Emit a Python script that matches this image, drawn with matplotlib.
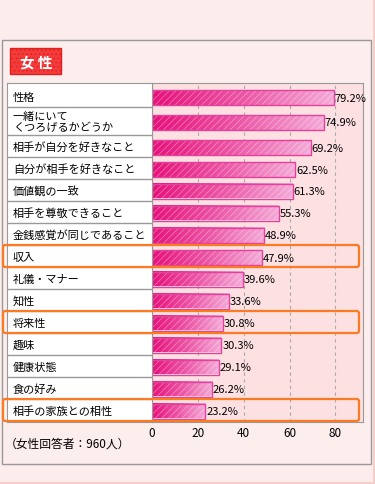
import matplotlib
matplotlib.use('Agg')
import numpy as np
import matplotlib.pyplot as plt
from matplotlib.patches import Rectangle, FancyBboxPatch
from matplotlib.colors import LinearSegmentedColormap

plt.rcParams['font.family'] = ['Noto Sans CJK JP', 'DejaVu Sans']
plt.rcParams['hatch.linewidth'] = 0.6

items = ['性格', '一緒にいて\nくつろげるかどうか', '相手が自分を好きなこと', '自分が相手を好きなこと',
         '価値観の一致', '相手を尊敬できること', '金銭感覚が同じであること', '収入',
         '礼儀・マナー', '知性', '将来性', '趣味', '健康状態', '食の好み', '相手の家族との相性']
values = [79.2, 74.9, 69.2, 62.5, 61.3, 55.3, 48.9, 47.9, 39.6, 33.6, 30.8, 30.3, 29.1, 26.2, 23.2]
highlighted = ['収入', '将来性', '相手の家族との相性']
xticks = [0, 20, 40, 60, 80]
badge = '女 性'
note = '（女性回答者：960人）'

W, H = 375, 485
fig = plt.figure(figsize=(W / 100, H / 100), dpi=100)
fig.patch.set_facecolor('#fcecec')

def fx(px):
    return px / W

def fy(py):
    return 1 - py / H

# outer frame and inner panel
fig.patches.append(Rectangle((fx(-3), fy(483.5)), fx(376.5), 483.5 / H, transform=fig.transFigure,
                             fc='none', ec='#f6c8c4', lw=1.2, zorder=-2))
fig.patches.append(Rectangle((fx(1.5), fy(464.5)), fx(369), 424 / H, transform=fig.transFigure,
                             fc='#fdeeee', ec='#999999', lw=1.0, zorder=-1))

# badge
fig.patches.append(Rectangle((fx(10), fy(75)), fx(51), 26 / H, transform=fig.transFigure,
                             fc='#f23c3c', ec='#e31e1e', lw=1.0, hatch='....', zorder=1))
fig.text(fx(36), fy(62.5), badge, color='white', fontsize=10.5, fontweight='bold',
         ha='center', va='center', zorder=2)

# row layout (1 data unit = 1 px)
row_h = [28 if '\n' in s else 22 for s in items]
pad_top = 2
tops = pad_top + np.concatenate([[0], np.cumsum(row_h)[:-1]])
bottoms = tops + np.array(row_h)
centers = (tops + bottoms) / 2
total = bottoms[-1] + 1

ax_top, ax_bot = 84, 423
ax = fig.add_axes([fx(152), fy(ax_bot), fx(211), (ax_bot - ax_top) / H])
lab = fig.add_axes([fx(7), fy(ax_bot), fx(145), (ax_bot - ax_top) / H])

# label column
lab.set_facecolor('white')
lab.set_xlim(0, 145)
lab.set_ylim(total, 0)
lab.set_xticks([])
lab.set_yticks([])
for s in lab.spines.values():
    s.set_color('#999999')
for b in bottoms[:-1]:
    lab.axhline(b, color='#999999', lw=1.0)
for s, c in zip(items, centers):
    lab.text(6, c + 0.5, s, fontsize=8, va='center', ha='left', linespacing=1.0)

# bars
cmap = LinearSegmentedColormap.from_list('pk', ['#e6107a', '#ec55a5', '#f4aad8'])
grad = np.linspace(0, 1, 256).reshape(1, -1)
bar_h = 15
for v, c in zip(values, centers):
    ax.imshow(grad, extent=(0, v, c + 1 + bar_h / 2, c + 1 - bar_h / 2), cmap=cmap,
              aspect='auto', interpolation='bilinear', zorder=2)
ax.barh(centers + 1, values, height=bar_h, fill=False, hatch='/////',
        edgecolor=(1, 1, 1, 0.35), lw=0, zorder=3)
ax.barh(centers + 1, values, height=bar_h, fill=False, edgecolor='#e4419c', lw=1.0, zorder=4)
for v, c in zip(values, centers):
    ax.text(v + 0.4, c + 1.5, f'{v}%', fontsize=8, va='center', ha='left', zorder=5)

ax.set_facecolor('#fde0e2')
ax.set_xlim(0, 92)
ax.set_ylim(total, 0)
ax.set_yticks([])
ax.set_xticks(xticks)
ax.set_xticklabels([str(t) for t in xticks], fontsize=8.5)
ax.tick_params(axis='x', length=0, pad=3)
ax.grid(axis='x', color='#aaaaaa', lw=0.8, ls=(0, (3, 3)), zorder=1)
ax.set_axisbelow(True)
for s in ax.spines.values():
    s.set_color('#999999')

# highlight boxes
for s, t, b in zip(items, tops, bottoms):
    if s in highlighted:
        y0 = ax_top + t
        y1 = ax_top + b
        fig.patches.append(FancyBboxPatch((fx(3), fy(y1)), fx(356), (y1 - y0) / H,
                                          boxstyle='round,pad=0,rounding_size=0.006',
                                          mutation_aspect=W / H, transform=fig.transFigure,
                                          fc='none', ec='#fb7a22', lw=1.6, zorder=10))

fig.text(fx(5), fy(444), note, fontsize=8.5, va='center', ha='left')

fig.savefig('out.png', dpi=100, facecolor=fig.get_facecolor())
